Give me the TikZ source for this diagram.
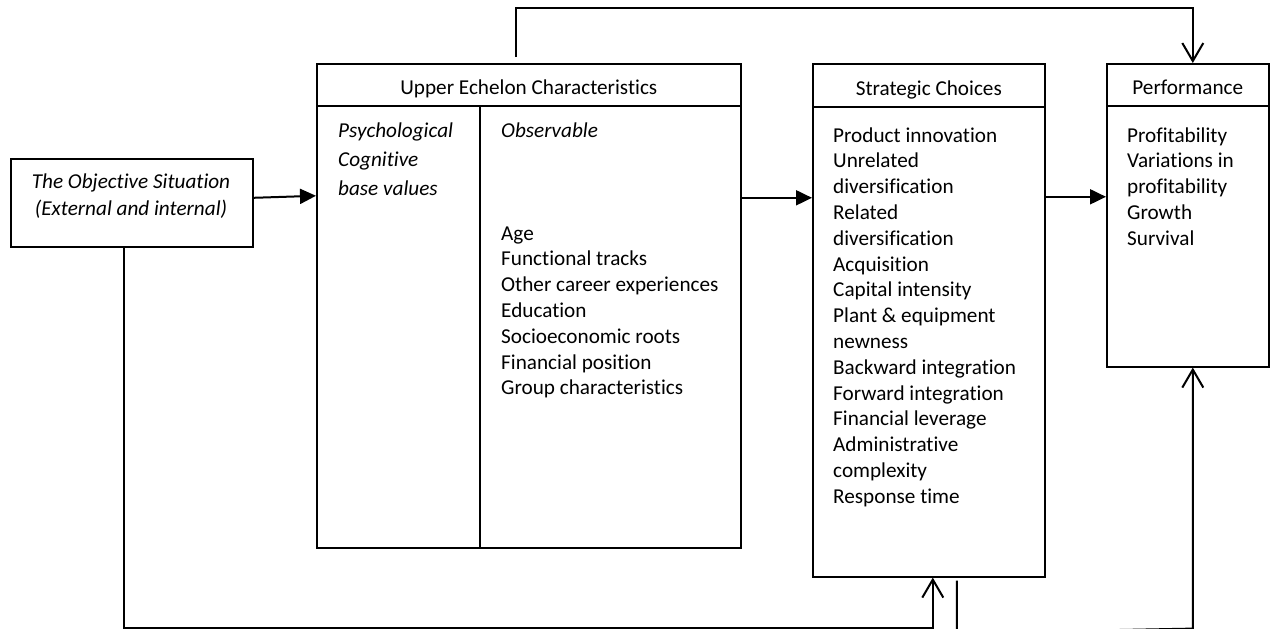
\documentclass[tikz,border=0pt]{standalone}
\usepackage{fontspec}
\setmainfont{Carlito}[Ligatures=NoCommon]
\usetikzlibrary{arrows.meta,calc}
\begin{document}
\begin{tikzpicture}[x=1pt,y=-1pt,
  box/.style={draw, line width=1.6pt, rectangle, inner sep=0pt, anchor=north west},
  rule/.style={line width=1.6pt},
  conn/.style={line width=2pt},
  fillarr/.style={conn, -{Triangle[length=16pt,width=15pt]}},
  openarr/.style={conn, -{Straight Barb[length=18pt,width=21pt]}},
  txt/.style={inner sep=0pt, anchor=base west, font=\fontsize{21.2pt}{25.8pt}\selectfont},
  itxt/.style={inner sep=0pt, anchor=base west, font=\fontsize{21.2pt}{29pt}\selectfont\itshape},
]
\useasboundingbox (0,0) rectangle (1275,629);

% boxes
\node[box, minimum width=242pt, minimum height=88pt] (obj) at (10,158) {};
\node[box, minimum width=424pt, minimum height=484pt] (ue) at (316,63) {};
\node[box, minimum width=232pt, minimum height=513pt] (sc) at (812,63) {};
\node[box, minimum width=162pt, minimum height=303pt] (perf) at (1106,63) {};

% header rules and column divider
\draw[rule] ($(ue.north west)+(0,43)$) -- ($(ue.north east)+(0,43)$);
\draw[rule] ($(ue.north west)+(164,43)$) -- ($(ue.south west)+(164,0)$);
\draw[rule] ($(sc.north west)+(0,44)$) -- ($(sc.north east)+(0,44)$);
\draw[rule] ($(perf.north west)+(0,43)$) -- ($(perf.north east)+(0,43)$);

% texts
\node[itxt, anchor=base, font=\fontsize{21.2pt}{27pt}\selectfont\itshape] (objlbl) at (131,188)
  {\begin{tabular}[t]{@{}c@{}}The Objective Situation\\(External and internal)\end{tabular}};
\node[txt, anchor=base] (uehead) at ($(ue.north)+(0,31)$) {Upper Echelon Characteristics};
\node[txt, anchor=base] (schead) at ($(sc.north)+(0,32)$) {Strategic Choices};
\node[txt, anchor=base] (perfhead) at ($(perf.north)+(0,31)$) {Performance};

\node[itxt] (psy) at (338,137)
  {\begin{tabular}[t]{@{}l@{}}Psychological\\Cognitive\\base values\end{tabular}};
\node[itxt] (obs) at (501,137) {Observable};
\node[txt] (obslist) at (501,240)
  {\begin{tabular}[t]{@{}l@{}}Age\\Functional tracks\\Other career experiences\\Education\\Socioeconomic roots\\Financial position\\Group characteristics\end{tabular}};
\node[txt] (sclist) at (833,142)
  {\begin{tabular}[t]{@{}l@{}}Product innovation\\Unrelated\\diversification\\Related\\diversification\\Acquisition\\Capital intensity\\Plant \& equipment\\newness\\Backward integration\\Forward integration\\Financial leverage\\Administrative\\complexity\\Response time\end{tabular}};
\node[txt] (perflist) at (1127,142)
  {\begin{tabular}[t]{@{}l@{}}Profitability\\Variations in\\profitability\\Growth\\Survival\end{tabular}};

% forward arrows
\coordinate (o1) at ($(obj.east)+(0,-5)$);
\draw[fillarr] (o1) -- ($(o1 -| ue.west)+(0,-2)$);
\draw[fillarr] (ue.east |- o1) -- (sc.west |- o1);
\draw[fillarr] ($(sc.east |- o1)+(0,-1)$) -- ($(perf.west |- o1)+(0,-1)$);

% feedback loops
\coordinate (t0) at ($(ue.north west)+(200,-6)$);
\draw[openarr] (t0) -- ++(0,-49) -| ($(perf.north)+(5,0)$);

\coordinate (b0) at ($(obj.south)+(-8,0)$);
\draw[openarr] (b0) -- ++(0,380) -| ($(sc.south)+(4,0)$);

\coordinate (s0) at ($(sc.south)+(28,3)$);
\coordinate (p0) at ($(perf.south)+(5,0)$);
\draw[openarr] (s0) -- ++(0,52.5) -- ($(p0)+(0,261)$) -- (p0);
\end{tikzpicture}
\end{document}
